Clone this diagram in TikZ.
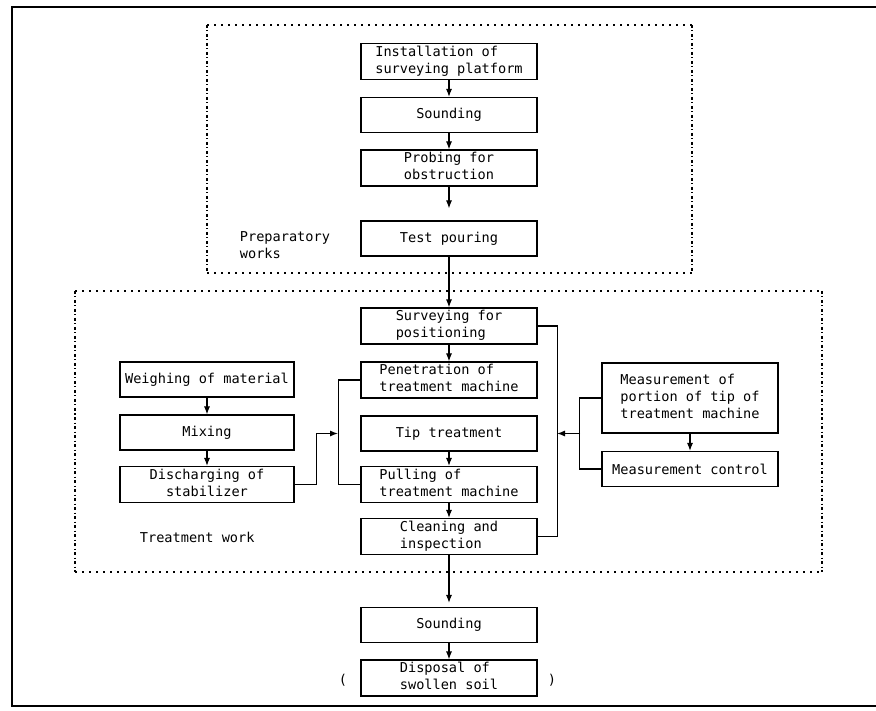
\documentclass[tikz,border=0pt]{standalone}
\usepackage{fontspec}
\setmonofont{DejaVu Sans Mono}
\usepackage{tikz}
\usetikzlibrary{arrows.meta,positioning}
\newcommand{\leftlines}[1]{\begin{tabular}{@{}l@{}}#1\end{tabular}}
\newcommand{\midlines}[1]{\begin{tabular}{@{}c@{}}#1\end{tabular}}
\tikzset{
  stepbox/.style={ draw, line width=1.1pt, minimum width=176pt, minimum height=35pt, inner xsep=2pt, inner ysep=1pt }
}
\tikzset{
  sidebox/.style={ stepbox, minimum width=174pt }
}
\tikzset{
  grpline/.style={ line width=1.3pt, dash pattern=on 1.5pt off 5.5pt }
}
\tikzset{
  grpside/.style={ line width=1.3pt, dash pattern=on 3pt off 2.5pt on 1pt off 2.5pt }
}

\begin{document}
\begin{tikzpicture}[x=1pt, y=-1pt, font=\ttfamily\fontsize{13.6}{17}\selectfont,
    >={Latex[length=8pt,width=6pt]}, line width=1.1pt]
      \useasboundingbox (0,0) rectangle (876,711);
      % page frame
      \draw[line width=2pt] (876,7) -- (12,7) -- (12,706) -- (876,706);

      % group frames
      \draw[grpline] (207,25) -- (692,25) (207,273) -- (692,273);
      \draw[grpside] (207,25) -- (207,273) (692,25) -- (692,273);
      \draw[grpline] (75,291) -- (822,291) (75,572) -- (822,572);
      \draw[grpside] (75,291) -- (75,572) (822,291) -- (822,572);

      \node[anchor=north west] (prep) at (236,226) {\leftlines{Preparatory\\works}};
      \node[anchor=west] (treat) at (136,537) {Treatment work};

      % main column
      \node[stepbox] (inst) at (449, 61.5) {\leftlines{Installation of\\surveying platform}};
      \node[stepbox] (snd1) at (449, 115) {Sounding};
      \node[stepbox] (probe) at (449, 168) {\leftlines{Probing for\\obstruction}};
      \node[stepbox] (test) at (449, 238.5) {Test pouring};
      \node[stepbox] (survey) at (449, 326) {\leftlines{Surveying for\\positioning}};
      \node[stepbox] (pen) at (449, 380) {\leftlines{Penetration of\\treatment machine}};
      \node[stepbox] (tip) at (449, 433.5) {Tip treatment};
      \node[stepbox] (pull) at (449, 484.5) {\leftlines{Pulling of\\treatment machine}};
      \node[stepbox] (clean) at (449, 536.5) {\leftlines{Cleaning and\\inspection}};
      \node[stepbox] (snd2) at (449, 625) {Sounding};
      \node[stepbox] (disp) at (449, 678) {\leftlines{Disposal of\\swollen soil}};
      \node (lpar) at (343, 680) {(};
      \node (rpar) at (552, 680) {)};

      % material column
      \node[sidebox] (weigh) at (207, 379.5) {Weighing of material};
      \node[sidebox] (mix) at (207, 432.5) {Mixing};
      \node[sidebox] (disch) at (207, 484.5) {\midlines{Discharging of\\stabilizer}};

      % measurement column
      \node[stepbox, minimum height=70pt] (meas) at (690, 398) {\leftlines{Measurement of\\portion of tip of\\treatment machine}};
      \node[stepbox] (mctrl) at (690, 469) {Measurement control};

      \coordinate (lbus) at (338, 433.5);
      \coordinate (rbus) at (557, 433.5);
      \coordinate (rjoin) at (580, 433.5);

      \begin{scope}[->]
        \draw (inst) -- (snd1);
        \draw (snd1) -- (probe);
        \draw[shorten >=12pt] (probe) -- (test);
        \draw (test) -- (survey);
        \draw (survey) -- (pen);
        \draw (tip) -- (pull);
        \draw (pull) -- (clean);
        \draw[shorten >=4pt] (clean) -- (snd2);
        \draw (snd2) -- (disp);

        \draw (weigh) -- (mix);
        \draw (mix) -- (disch);
        \draw (disch.east) -- ++(22,0) |- (lbus);

        \draw (meas) -- (mctrl);
        \draw (rjoin) -- (rbus);
      \end{scope}

      \draw (pen.west) -- ++(-22,0) |- (pull.west);
      \draw (survey.east) -- ++(20,0) |- (clean.east);
      \draw (meas.west) -- ++(-22,0) |- (mctrl.west);
    \end{tikzpicture}
\end{document}
